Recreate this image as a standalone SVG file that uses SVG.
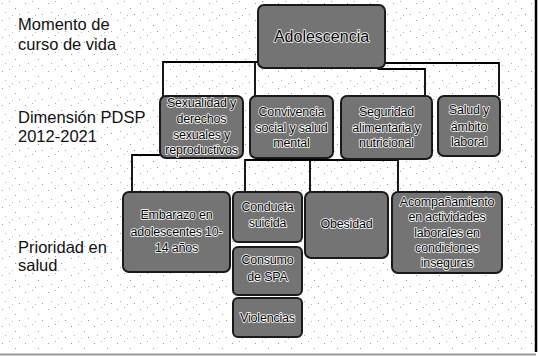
<svg xmlns="http://www.w3.org/2000/svg" width="538" height="356" viewBox="0 0 538 356">
<style>
.lbl{font-family:"Liberation Sans",Arial,sans-serif;font-size:16.5px;fill:#111}
.box{fill:#747474;stroke:#1a1a1a;stroke-width:2}
.bt{font-family:"Liberation Sans",Arial,sans-serif;font-size:12.5px;letter-spacing:-0.2px;fill:#000;stroke:#fff;stroke-width:1.6;paint-order:stroke;stroke-linejoin:round;text-anchor:middle}
.big{font-size:16px;letter-spacing:0}
.con{fill:none;stroke:#000;stroke-width:1.8}
</style>
<defs>
<pattern id="dots" width="23" height="17" patternUnits="userSpaceOnUse">
<rect x="2" y="3" width="1" height="1" fill="#999"/>
<rect x="9" y="1" width="1" height="1" fill="#aaa"/>
<rect x="15" y="8" width="1" height="1" fill="#999"/>
<rect x="5" y="12" width="1" height="1" fill="#aaa"/>
<rect x="19" y="14" width="1" height="1" fill="#999"/>
<rect x="12" y="15" width="1" height="1" fill="#bbb"/>
</pattern>
</defs>
<rect width="538" height="356" fill="#fff"/>
<rect x="0" y="0" width="534" height="352" fill="url(#dots)"/>
<line x1="536" y1="0" x2="536" y2="352" stroke="#000" stroke-width="2.5"/>
<line x1="0" y1="354.5" x2="536" y2="354.5" stroke="#999" stroke-width="2"/>

<g id="row-labels">
<text class="lbl" x="18" y="30">Momento de</text>
<text class="lbl" x="18" y="50">curso de vida</text>
<text class="lbl" x="18" y="123">Dimensión PDSP</text>
<text class="lbl" x="18" y="142">2012-2021</text>
<text class="lbl" x="18" y="253">Prioridad en</text>
<text class="lbl" x="18" y="271">salud</text>
</g>

<g id="connectors">
<path class="con" d="M163,97 V62 H258"/>
<path class="con" d="M255,62 V97"/>
<path class="con" d="M385,63 H499 V96"/>
<path class="con" d="M378,69 H425 V96"/>
<path class="con" d="M160,155 H132 V192"/>
<path class="con" d="M245,192 V160 H398 V192"/>
<path class="con" d="M310,160 V192"/>
</g>

<g id="adolescencia">
<rect class="box" x="258" y="5" width="127" height="63" rx="6"/>
<text class="bt big" x="321.5" y="42">Adolescencia</text>
</g>

<g id="sexualidad">
<rect class="box" x="160" y="96" width="83" height="62" rx="6"/>
<text class="bt" x="201.5" y="107">Sexualidad y</text>
<text class="bt" x="201.5" y="123">derechos</text>
<text class="bt" x="201.5" y="139">sexuales y</text>
<text class="bt" x="201.5" y="154">reproductivos</text>
</g>

<g id="convivencia">
<rect class="box" x="250" y="96" width="83" height="62" rx="6"/>
<text class="bt" x="291.5" y="116">Convivencia</text>
<text class="bt" x="291.5" y="132">social y salud</text>
<text class="bt" x="291.5" y="147">mental</text>
</g>

<g id="seguridad">
<rect class="box" x="341" y="96" width="91" height="63" rx="6"/>
<text class="bt" x="386.5" y="116">Seguridad</text>
<text class="bt" x="386.5" y="132">alimentaria y</text>
<text class="bt" x="386.5" y="147">nutricional</text>
</g>

<g id="salud">
<rect class="box" x="438" y="96" width="62" height="60" rx="6"/>
<text class="bt" x="469" y="114">Salud y</text>
<text class="bt" x="469" y="131">ámbito</text>
<text class="bt" x="469" y="146">laboral</text>
</g>

<g id="embarazo">
<rect class="box" x="123" y="192" width="107" height="80" rx="6"/>
<text class="bt" x="176.5" y="219">Embarazo en</text>
<text class="bt" x="176.5" y="236">adolescentes 10-</text>
<text class="bt" x="176.5" y="252">14 años</text>
</g>

<g id="conducta">
<rect class="box" x="233" y="192" width="69" height="50" rx="5"/>
<text class="bt" x="267.5" y="211">Conducta</text>
<text class="bt" x="267.5" y="227">suicida</text>
</g>

<g id="consumo">
<rect class="box" x="233" y="247" width="69" height="48" rx="5"/>
<text class="bt" x="267.5" y="264">Consumo</text>
<text class="bt" x="267.5" y="281">de SPA</text>
</g>

<g id="violencias">
<rect class="box" x="233" y="298" width="69" height="39" rx="5"/>
<text class="bt" x="267.5" y="322">Violencias</text>
</g>

<g id="obesidad">
<rect class="box" x="305" y="192" width="83" height="66" rx="6"/>
<text class="bt" x="346.5" y="228">Obesidad</text>
</g>

<g id="acompanamiento">
<rect class="box" x="392" y="192" width="110" height="81" rx="6"/>
<text class="bt" x="447" y="206">Acompañamiento</text>
<text class="bt" x="447" y="221">en actividades</text>
<text class="bt" x="447" y="237">laborales en</text>
<text class="bt" x="447" y="252">condiciones</text>
<text class="bt" x="447" y="267">inseguras</text>
</g>
</svg>
